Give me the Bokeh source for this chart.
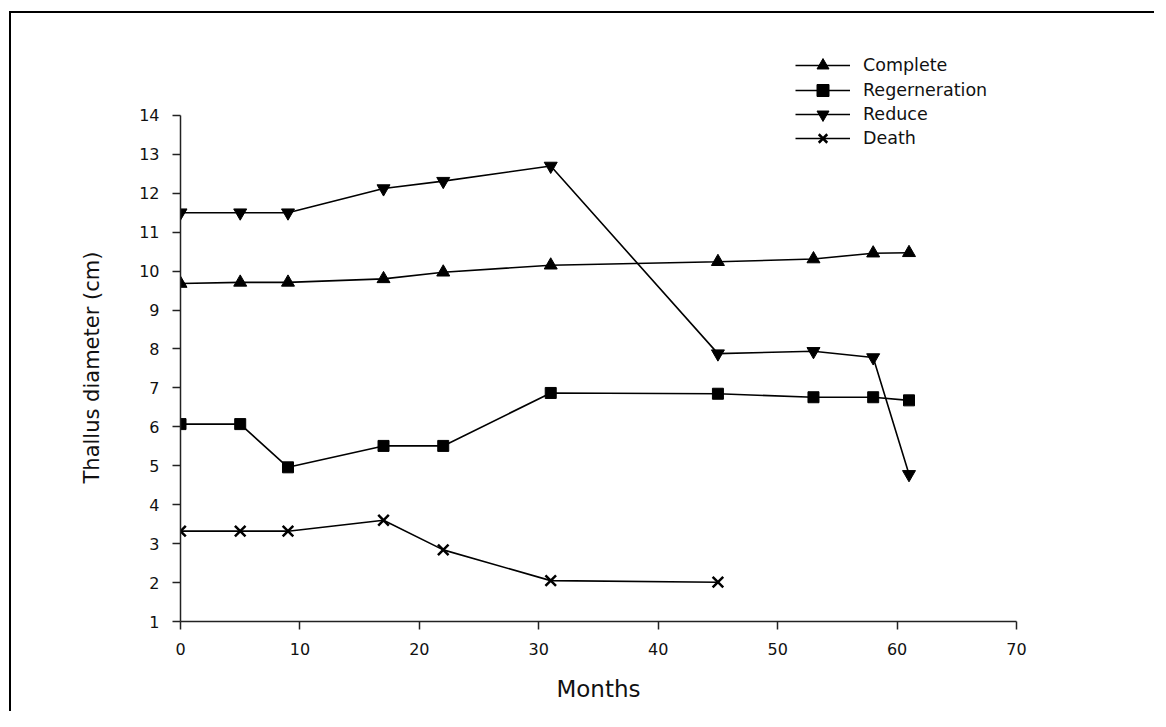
from bokeh.plotting import figure
from bokeh.models import Range1d, Legend, LegendItem, FixedTicker, Title
from bokeh.embed import file_html
from bokeh.resources import INLINE

# ---- data ----
months = [0, 5, 9, 17, 22, 31, 45, 53, 58, 61]
complete = [9.68, 9.71, 9.71, 9.80, 9.97, 10.15, 10.24, 10.31, 10.46, 10.47]
regeneration = [6.07, 6.07, 4.96, 5.51, 5.51, 6.87, 6.85, 6.76, 6.76, 6.68]
reduce_vals = [11.50, 11.50, 11.50, 12.12, 12.31, 12.70, 7.88, 7.94, 7.78, 4.78]
death_months = [0, 5, 9, 17, 22, 31, 45]
death = [3.32, 3.32, 3.32, 3.60, 2.84, 2.05, 2.01]
x_ticks = [0, 10, 20, 30, 40, 50, 60, 70]
y_ticks = list(range(1, 15))
series_labels = ["Complete", "Regerneration", "Reduce", "Death"]

FONT = "DejaVu Sans"

p = figure(
    width=1145, height=700,
    x_range=Range1d(0, 70), y_range=Range1d(1, 16),
    output_backend="svg", toolbar_location=None,
    min_border_left=169, min_border_right=140,
    min_border_top=24, min_border_bottom=92,
)
p.styles = {"border-top": "2px solid black", "border-left": "2px solid black",
            "margin-top": "11px", "margin-left": "9px"}
p.outline_line_color = None
p.xgrid.grid_line_color = None
p.ygrid.grid_line_color = None
p.background_fill_color = "white"
p.border_fill_color = "white"

for ax in (p.xaxis[0], p.yaxis[0]):
    ax.axis_line_color = "#222222"
    ax.axis_line_width = 1.5
    ax.major_tick_line_color = "#222222"
    ax.major_tick_line_width = 1.5
    ax.major_tick_out = 8
    ax.major_tick_in = 0
    ax.minor_tick_line_color = None
    ax.major_label_text_font = FONT
    ax.major_label_text_font_size = "16px"
    ax.major_label_text_color = "#111111"
    ax.axis_label_text_font = FONT
    ax.axis_label_text_font_style = "normal"
    ax.axis_label_text_color = "#111111"

p.xaxis.ticker = FixedTicker(ticks=x_ticks)
p.yaxis.ticker = FixedTicker(ticks=y_ticks)
p.yaxis.bounds = (1, 14)
p.xaxis.axis_label = "Months"
p.xaxis.axis_label_text_font_size = "23px"
p.xaxis.major_label_standoff = 13
p.yaxis.major_label_standoff = 13
p.xaxis.axis_label_standoff = 18

# y-axis title, centred on the 1..14 span of the axis (not the taller frame)
ytitle = Title(text="Thallus diameter (cm)", align="left", offset=138,
               text_font=FONT, text_font_size="21px", text_font_style="normal",
               text_color="#111111", standoff=66)
p.add_layout(ytitle, "left")

LW = 1.6
l1 = p.line(months, complete, line_width=LW, color="black")
s1 = p.scatter(months, complete, marker="triangle", size=13, color="black")
l2 = p.line(months, regeneration, line_width=LW, color="black")
s2 = p.scatter(months, regeneration, marker="square", size=11, color="black")
l3 = p.line(months, reduce_vals, line_width=LW, color="black")
s3 = p.scatter(months, reduce_vals, marker="inverted_triangle", size=13, color="black")
l4 = p.line(death_months, death, line_width=LW, color="black")
s4 = p.scatter(death_months, death, marker="x", size=15, line_width=2.5, color="black")

# one small legend per row so the rows can sit closer than the glyph box height
row_renderers = [[l1, s1], [l2, s2], [l3, s3], [l4, s4]]
row_y = [541, 516, 492, 468]
for label, rends, ly in zip(series_labels, row_renderers, row_y):
    lg = Legend(
        items=[LegendItem(label=label, renderers=rends)],
        location=(615, ly),
        glyph_width=55, glyph_height=30, label_height=30,
        spacing=0, padding=0, margin=0, label_standoff=13,
        border_line_color=None, background_fill_alpha=0,
        label_text_font=FONT, label_text_font_size="17.5px",
        label_text_color="#111111",
    )
    p.add_layout(lg)

open("out.html", "w").write(file_html(p, INLINE))
